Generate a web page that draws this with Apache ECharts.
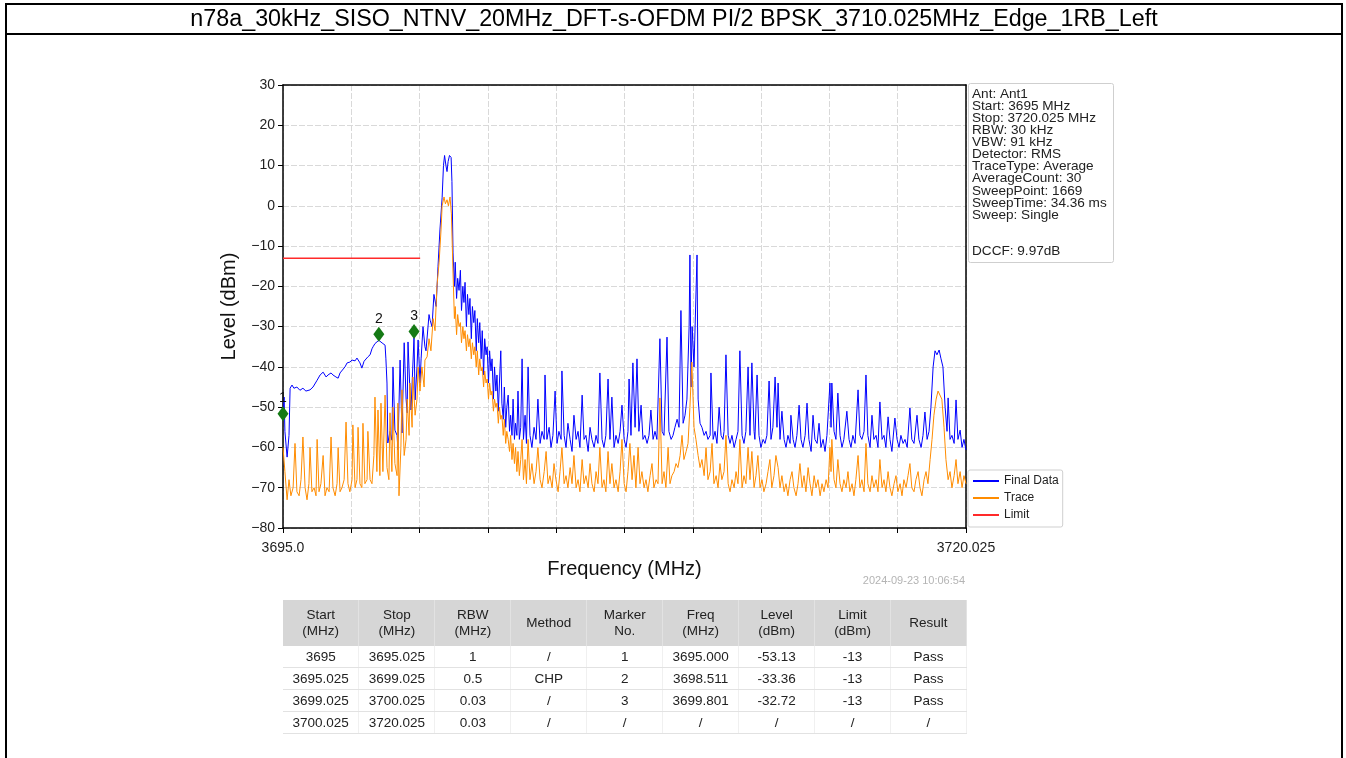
<!DOCTYPE html>
<html>
<head>
<meta charset="utf-8">
<script src="https://cdn.jsdelivr.net/npm/echarts@6/dist/echarts.min.js"></script>
<style>
  html, body { margin: 0; padding: 0; background: #fff; width: 1346px; height: 758px; overflow: hidden;
               font-family: "Liberation Sans", Arial, sans-serif; }
  #frame { position: absolute; left: 5px; top: 3px; width: 1338px; height: 770px; border: 2px solid #000;
           border-bottom: none; box-sizing: border-box; }
  #titlebar { position: absolute; left: 5px; top: 3px; width: 1338px; height: 32px; border-bottom: 2px solid #000;
              box-sizing: border-box; text-align: center; font-size: 23.3px; line-height: 30px; color: #000; }
  #chart { position: absolute; left: 0; top: 0; width: 1346px; height: 758px; }
  #tbl { position: absolute; left: 283px; top: 600px; width: 684px; border-collapse: collapse; table-layout: fixed;
         font-size: 13.5px; color: #222; }
  #tbl th { background: #d6d6d6; font-weight: normal; height: 46px; padding: 0; line-height: 16px;
            border-right: 1px solid #e2e2e2; }
  #tbl td { height: 21px; padding: 0; text-align: center; border-bottom: 1px solid #e2e2e2;
            border-right: 1px solid #f0f0f0; }
</style>
</head>
<body>
<div id="chart"></div>
<div id="frame"></div>
<div id="titlebar">n78a_30kHz_SISO_NTNV_20MHz_DFT-s-OFDM PI/2 BPSK_3710.025MHz_Edge_1RB_Left</div>
<table id="tbl"></table>
<script>
// Sweep settings
const sweepStart = 3695.0;
const sweepStop = 3720.025;
const xEdgeLabels = ['3695.0', '3720.025'];
const levelMin = -80, levelMax = 30, levelStep = 10;

// Final Data (blue), [MHz, dBm] — lower band edge up to the carrier
const finalLeft = [
  [3695.00,-53.1],[3695.04,-47.5],[3695.07,-56],[3695.15,-62.4],[3695.22,-57],[3695.26,-45.3],[3695.33,-44.5],
  [3695.40,-45.3],[3695.51,-45],[3695.62,-45.8],[3695.73,-45.3],[3695.84,-46],[3695.99,-45.7],[3696.10,-45],
  [3696.25,-43.3],[3696.36,-42],[3696.47,-41.3],[3696.58,-42.5],[3696.65,-42],[3696.76,-41.5],[3696.83,-42],
  [3696.94,-42.5],[3697.02,-42.8],[3697.09,-41.5],[3697.16,-41.3],[3697.27,-40],[3697.35,-39],[3697.45,-38.8],
  [3697.53,-38.3],[3697.64,-38.5],[3697.71,-37.8],[3697.82,-39],[3697.89,-40.3],[3697.97,-38.6],[3698.00,-38.3],
  [3698.11,-37.5],[3698.19,-37],[3698.26,-35.5],[3698.30,-35],[3698.37,-34.2],[3698.44,-34],[3698.51,-33.4],
  [3698.55,-33.8],[3698.66,-34.2],[3698.74,-34.6],[3698.77,-38],[3698.81,-44],[3698.84,-58.9],[3698.92,-56],
  [3698.99,-58.2],[3699.03,-40],[3699.10,-55.7],[3699.18,-57],[3699.21,-60.6],[3699.29,-38.3],[3699.36,-56.4],
  [3699.44,-34],[3699.51,-48],[3699.55,-51.4],[3699.58,-33.8],[3699.65,-46],[3699.69,-50.7],[3699.80,-32.7],
  [3699.84,-48.2],[3699.91,-40],[3699.95,-33.3],[3700.02,-44],[3700.06,-38],[3700.13,-30],[3700.20,-35],
  [3700.24,-36],[3700.35,-27],[3700.39,-28.4],[3700.46,-30],[3700.53,-22],[3700.61,-25],[3700.68,-15],
  [3700.75,-6],[3700.83,2],[3700.88,10],[3700.92,12.5],[3700.97,10],[3701.01,8.5],[3701.05,11],[3701.10,12.5],
  [3701.16,12],[3701.19,6]
];

// Final Data (blue) — upper skirt of the carrier
const finalSkirt = [
  [3701.23,-11.7],[3701.28,-20],[3701.31,-14],[3701.36,-23],[3701.40,-18],[3701.45,-21],[3701.50,-16],[3701.54,-26],
  [3701.59,-20],[3701.63,-24],[3701.67,-19],[3701.72,-30],[3701.76,-22],[3701.81,-27],[3701.85,-23],[3701.90,-33],
  [3701.94,-25],[3701.99,-29],[3702.03,-26],[3702.08,-36],[3702.12,-28],[3702.17,-34],[3702.21,-29],[3702.26,-38],
  [3702.30,-31],[3702.35,-42],[3702.39,-33],[3702.44,-37],[3702.48,-35],[3702.53,-44],[3702.57,-36],[3702.62,-41],
  [3702.66,-38],[3702.71,-48],[3702.75,-40],[3702.80,-46],[3702.84,-42],[3702.89,-51],[3702.93,-44],[3702.98,-36],
  [3703.02,-49],[3703.07,-53],[3703.11,-45],[3703.16,-55],[3703.20,-50],[3703.25,-47],[3703.30,-56],[3703.34,-52],
  [3703.39,-57],[3703.43,-48],[3703.48,-58],[3703.52,-54],[3703.57,-57],[3703.61,-46],[3703.66,-58],[3703.71,-55],
  [3703.76,-38],[3703.81,-58],[3703.87,-52],[3703.92,-59],[3703.98,-40]
];

// Final Data (blue) — upper band
const finalRight = [
  [3704.05,-57],[3704.12,-60],[3704.20,-55],[3704.27,-58],[3704.34,-48],[3704.42,-59],[3704.49,-56],[3704.57,-58],
  [3704.60,-42],[3704.67,-58],[3704.75,-55],[3704.82,-60],[3704.89,-57],[3704.97,-46],[3705.04,-59],[3705.11,-56],
  [3705.19,-58],[3705.22,-41],[3705.30,-57],[3705.37,-60],[3705.44,-54],[3705.52,-58],[3705.59,-61],[3705.66,-52],
  [3705.74,-58],[3705.81,-56],[3705.88,-60],[3705.96,-47],[3706.03,-58],[3706.10,-57],[3706.18,-61],[3706.25,-55],
  [3706.32,-58],[3706.40,-60],[3706.47,-57],[3706.54,-59],[3706.61,-41.5],[3706.69,-58],[3706.76,-60],[3706.83,-57],
  [3706.91,-43],[3706.98,-58],[3707.05,-47.5],[3707.13,-60],[3707.20,-57],[3707.28,-59],[3707.35,-56],[3707.42,-49.5],
  [3707.50,-58],[3707.57,-60],[3707.64,-56],[3707.68,-43],[3707.75,-57],[3707.82,-39],[3707.90,-55],[3707.97,-38],
  [3708.04,-56],[3708.12,-49.5],[3708.19,-58],[3708.26,-57],[3708.34,-59],[3708.41,-57],[3708.48,-50.7],[3708.56,-58],
  [3708.63,-56],[3708.70,-58],[3708.81,-33],[3708.89,-56],[3708.96,-57],[3709.07,-32.6],[3709.14,-56],[3709.22,-58],
  [3709.29,-57],[3709.36,-55],[3709.44,-53],[3709.51,-55],[3709.58,-26],[3709.66,-54],[3709.73,-52],[3709.80,-48],
  [3709.88,-30],[3709.91,-12.2],[3709.95,-45],[3709.99,-30],[3710.06,-40],[3710.17,-12.2],[3710.21,-48],[3710.28,-54],
  [3710.35,-55],[3710.43,-57],[3710.50,-56],[3710.57,-58],[3710.65,-57],[3710.68,-41.5],[3710.76,-58],[3710.83,-56],
  [3710.90,-59],[3710.98,-50],[3711.05,-57],[3711.12,-58],[3711.16,-56],[3711.23,-37],[3711.31,-57],[3711.38,-59],
  [3711.45,-57],[3711.53,-60],[3711.60,-58],[3711.67,-56],[3711.74,-36],[3711.82,-57],[3711.89,-59],[3711.96,-56],
  [3712.04,-40],[3712.11,-57],[3712.18,-39],[3712.26,-56],[3712.29,-58],[3712.37,-42],[3712.44,-57],[3712.51,-60],
  [3712.59,-58],[3712.66,-59],[3712.73,-57],[3712.81,-43.5],[3712.88,-58],[3712.95,-55],[3713.03,-42.5],[3713.10,-55],
  [3713.14,-44],[3713.21,-58],[3713.28,-51],[3713.36,-58],[3713.43,-60],[3713.50,-57],[3713.58,-59],[3713.61,-52],
  [3713.69,-58],[3713.76,-60],[3713.83,-57],[3713.91,-49.5],[3713.98,-58],[3714.05,-60],[3714.13,-57],[3714.20,-49],
  [3714.27,-58],[3714.35,-61],[3714.42,-52],[3714.49,-58],[3714.57,-59],[3714.64,-54],[3714.71,-60],[3714.79,-58],
  [3714.86,-61],[3714.93,-57],[3715.04,-44],[3715.08,-55],[3715.11,-44],[3715.19,-56],[3715.26,-58],[3715.33,-46.5],
  [3715.41,-57],[3715.48,-60],[3715.55,-58],[3715.66,-51],[3715.74,-58],[3715.81,-60],[3715.88,-57],[3715.96,-59],
  [3716.07,-45.7],[3716.14,-57],[3716.21,-58],[3716.29,-56],[3716.36,-42],[3716.43,-57],[3716.51,-60],[3716.58,-52],
  [3716.65,-58],[3716.73,-57],[3716.80,-60],[3716.87,-48.7],[3716.95,-58],[3717.02,-57],[3717.09,-60],[3717.17,-52.4],
  [3717.24,-58],[3717.31,-61],[3717.42,-52.7],[3717.50,-58],[3717.57,-60],[3717.64,-57],[3717.72,-59],[3717.79,-58],
  [3717.87,-60],[3717.97,-50.2],[3718.04,-58],[3718.12,-59],[3718.23,-52],[3718.30,-58],[3718.38,-60],[3718.45,-57],
  [3718.52,-51.2],[3718.60,-58],[3718.67,-56],[3718.74,-50],[3718.82,-40],[3718.89,-36],[3718.96,-37],[3719.04,-35.8],
  [3719.11,-38],[3719.18,-40],[3719.26,-50],[3719.33,-56],[3719.37,-47.7],[3719.44,-58],[3719.51,-57],[3719.59,-59],
  [3719.66,-48.2],[3719.73,-58],[3719.81,-55.7],[3719.88,-60],[3719.95,-58],[3720.025,-60.6]
];

// Trace (orange) — lower band edge up to the carrier
const traceLeft = [
  [3695.00,-60],[3695.07,-66],[3695.15,-73],[3695.22,-68],[3695.29,-72],[3695.37,-70],[3695.44,-59],[3695.51,-71],
  [3695.59,-72],[3695.66,-68],[3695.73,-57.4],[3695.81,-70],[3695.88,-73],[3695.95,-69],[3695.99,-60],[3696.06,-71],
  [3696.14,-70],[3696.21,-72],[3696.25,-58],[3696.32,-71],[3696.39,-69],[3696.47,-62],[3696.54,-72],[3696.61,-70],
  [3696.69,-71],[3696.76,-57.4],[3696.83,-70],[3696.91,-72],[3696.98,-69],[3697.02,-60],[3697.09,-71],[3697.16,-70],
  [3697.24,-68],[3697.31,-53.7],[3697.38,-69],[3697.45,-71],[3697.53,-68],[3697.56,-54.4],[3697.64,-70],[3697.71,-68],
  [3697.75,-55],[3697.82,-69],[3697.89,-70],[3697.93,-54],[3698.00,-69],[3698.08,-68],[3698.11,-56],[3698.19,-68],
  [3698.26,-69],[3698.33,-62],[3698.37,-47.5],[3698.44,-66],[3698.48,-50.7],[3698.55,-67],[3698.59,-49],[3698.66,-66],
  [3698.74,-47],[3698.81,-65],[3698.88,-68],[3698.92,-51.4],[3698.99,-66],[3699.03,-50],[3699.10,-64],[3699.18,-67],
  [3699.21,-49],[3699.25,-72],[3699.32,-60],[3699.36,-45.7],[3699.44,-62],[3699.51,-58],[3699.55,-48],[3699.62,-57],
  [3699.65,-44],[3699.73,-55],[3699.76,-42.5],[3699.84,-52],[3699.91,-48],[3699.95,-40],[3700.02,-46],[3700.09,-40],
  [3700.17,-45],[3700.20,-38.3],[3700.28,-37.5],[3700.35,-33],[3700.42,-36],[3700.50,-28],[3700.57,-31],[3700.64,-20],
  [3700.72,-14],[3700.79,-6],[3700.83,0],[3700.90,2.2],[3700.95,0.5],[3701.01,1.5],[3701.06,0],[3701.12,2.2],
  [3701.17,-2]
];

// Trace (orange) — upper skirt of the carrier
const traceSkirt = [
  [3701.23,-16.7],[3701.28,-28],[3701.31,-25],[3701.36,-32],[3701.40,-27],[3701.45,-30],[3701.50,-29],[3701.54,-34],
  [3701.59,-30],[3701.63,-33],[3701.67,-31],[3701.72,-36],[3701.76,-32],[3701.81,-35],[3701.85,-33],[3701.90,-38],
  [3701.94,-34],[3701.99,-37],[3702.03,-35],[3702.08,-40],[3702.12,-36],[3702.17,-42],[3702.21,-38],[3702.26,-41],
  [3702.30,-40],[3702.35,-45],[3702.39,-41],[3702.44,-44],[3702.48,-43],[3702.53,-48],[3702.57,-44],[3702.62,-47],
  [3702.66,-46],[3702.71,-51],[3702.75,-48],[3702.80,-50],[3702.84,-49],[3702.89,-54],[3702.93,-50],[3702.98,-53],
  [3703.02,-52],[3703.07,-57],[3703.11,-53],[3703.16,-59],[3703.20,-56],[3703.25,-58],[3703.30,-61],[3703.34,-57],
  [3703.39,-63],[3703.43,-59],[3703.48,-64],[3703.52,-60],[3703.57,-66],[3703.61,-61],[3703.66,-67],[3703.71,-63],
  [3703.76,-58],[3703.81,-68],[3703.87,-63],[3703.92,-69],[3703.98,-58]
];

// Trace (orange) — upper band
const traceRight = [
  [3704.05,-68],[3704.12,-64],[3704.20,-69],[3704.27,-66],[3704.34,-60],
  [3704.42,-68],[3704.49,-70],[3704.57,-66],[3704.64,-61],[3704.71,-69],[3704.78,-67],[3704.86,-70],[3704.93,-64],
  [3705.00,-68],[3705.08,-71],[3705.15,-66],[3705.22,-60],[3705.30,-69],[3705.37,-67],[3705.44,-70],[3705.52,-65],
  [3705.59,-69],[3705.66,-62],[3705.74,-70],[3705.81,-68],[3705.88,-71],[3705.96,-63],[3706.03,-69],[3706.10,-67],
  [3706.18,-70],[3706.25,-64],[3706.32,-69],[3706.40,-71],[3706.47,-66],[3706.54,-69],[3706.61,-60],[3706.69,-70],
  [3706.76,-68],[3706.83,-71],[3706.91,-61],[3706.98,-69],[3707.05,-64],[3707.13,-70],[3707.20,-68],[3707.28,-71],
  [3707.35,-66],[3707.42,-58],[3707.50,-69],[3707.57,-71],[3707.64,-66],[3707.71,-59],[3707.79,-68],[3707.86,-62],
  [3707.93,-70],[3708.01,-60],[3708.08,-69],[3708.15,-66],[3708.23,-70],[3708.30,-68],[3708.37,-71],[3708.45,-67],
  [3708.52,-64],[3708.59,-70],[3708.67,-68],[3708.74,-69],[3708.81,-47.7],[3708.89,-69],[3708.96,-66],[3709.03,-70],
  [3709.11,-60],[3709.18,-69],[3709.25,-67],[3709.33,-66],[3709.40,-64],[3709.47,-65],[3709.55,-62],[3709.62,-57],
  [3709.69,-63],[3709.77,-61],[3709.84,-59],[3709.91,-50],[3709.98,-38.8],[3710.06,-55],[3710.13,-58],[3710.21,-62],
  [3710.28,-65],[3710.35,-63],[3710.43,-67],[3710.50,-60],[3710.57,-68],[3710.65,-66],[3710.72,-59],[3710.79,-69],
  [3710.87,-67],[3710.94,-70],[3711.01,-64],[3711.08,-68],[3711.16,-66],[3711.23,-57],[3711.31,-69],[3711.38,-71],
  [3711.45,-68],[3711.53,-70],[3711.60,-66],[3711.67,-69],[3711.74,-58],[3711.82,-70],[3711.89,-67],[3711.96,-69],
  [3712.04,-60],[3712.11,-68],[3712.18,-61],[3712.26,-70],[3712.33,-67],[3712.40,-62],[3712.48,-70],[3712.55,-68],
  [3712.62,-71],[3712.70,-69],[3712.77,-66],[3712.84,-63],[3712.91,-70],[3712.99,-67],[3713.06,-62],[3713.14,-65],
  [3713.21,-70],[3713.28,-67],[3713.36,-71],[3713.43,-69],[3713.50,-72],[3713.58,-68],[3713.65,-66],[3713.72,-70],
  [3713.80,-72],[3713.87,-69],[3713.94,-64],[3714.02,-70],[3714.09,-67],[3714.16,-71],[3714.24,-65],[3714.31,-69],
  [3714.38,-72],[3714.46,-67],[3714.53,-70],[3714.60,-68],[3714.68,-72],[3714.75,-69],[3714.82,-71],[3714.90,-68],
  [3714.97,-70],[3715.04,-60],[3715.08,-66],[3715.11,-58],[3715.19,-68],[3715.26,-70],[3715.33,-63],[3715.41,-69],
  [3715.48,-71],[3715.55,-68],[3715.63,-70],[3715.70,-66],[3715.77,-71],[3715.85,-69],[3715.92,-72],[3715.99,-68],
  [3716.07,-62],[3716.14,-70],[3716.21,-68],[3716.29,-71],[3716.36,-59],[3716.43,-69],[3716.51,-71],[3716.58,-67],
  [3716.65,-70],[3716.73,-68],[3716.80,-71],[3716.87,-63],[3716.95,-70],[3717.02,-68],[3717.09,-71],[3717.17,-66],
  [3717.24,-70],[3717.31,-72],[3717.39,-69],[3717.46,-67],[3717.53,-71],[3717.61,-69],[3717.68,-72],[3717.75,-68],
  [3717.83,-70],[3717.90,-67],[3717.97,-64],[3718.04,-70],[3718.12,-71],[3718.19,-68],[3718.27,-66],[3718.34,-70],
  [3718.41,-72],[3718.49,-68],[3718.56,-66],[3718.63,-69],[3718.71,-63],[3718.78,-58],[3718.85,-52],[3718.93,-48],
  [3719.00,-46],[3719.07,-45.7],[3719.14,-48],[3719.22,-55],[3719.29,-63],[3719.37,-68],[3719.44,-66],[3719.51,-70],
  [3719.59,-67],[3719.66,-63],[3719.73,-69],[3719.81,-66],[3719.88,-70],[3719.95,-67],[3720.025,-69]
];

// Emission limit segment
const limitFreq = [3695.0, 3700.025];
const limitLevel = -13;

// Peak markers
const markerNo = [1, 2, 3];
const markerFreq = [3695.000, 3698.511, 3699.801];
const markerLevel = [-53.13, -33.36, -32.72];

// Instrument settings box
const infoLines = [
  'Ant: Ant1', 'Start: 3695 MHz', 'Stop: 3720.025 MHz', 'RBW: 30 kHz', 'VBW: 91 kHz', 'Detector: RMS',
  'TraceType: Average', 'AverageCount: 30', 'SweepPoint: 1669', 'SweepTime: 34.36 ms', 'Sweep: Single',
  '', '', 'DCCF: 9.97dB'
];
const timestamp = '2024-09-23 10:06:54';

// Result table
const tableHeader = ['Start\n(MHz)', 'Stop\n(MHz)', 'RBW\n(MHz)', 'Method', 'Marker\nNo.', 'Freq\n(MHz)', 'Level\n(dBm)', 'Limit\n(dBm)', 'Result'];
const rangeStart = ['3695', '3695.025', '3699.025', '3700.025'];
const rangeStop = ['3695.025', '3699.025', '3700.025', '3720.025'];
const rangeRBW = ['1', '0.5', '0.03', '0.03'];
const rangeMethod = ['/', 'CHP', '/', '/'];
const rangeLimit = ['-13', '-13', '-13', '/'];
const rangeResult = ['Pass', 'Pass', 'Pass', '/'];

// ---- table ----
(function buildTable() {
  const tbl = document.getElementById('tbl');
  let html = '<tr>' + tableHeader.map(h => '<th>' + h.replace('\n', '<br>') + '</th>').join('') + '</tr>';
  for (let i = 0; i < rangeStart.length; i++) {
    const hasMarker = i < markerNo.length;
    const cells = [
      rangeStart[i], rangeStop[i], rangeRBW[i], rangeMethod[i],
      hasMarker ? String(markerNo[i]) : '/',
      hasMarker ? markerFreq[i].toFixed(3) : '/',
      hasMarker ? markerLevel[i].toFixed(2) : '/',
      rangeLimit[i], rangeResult[i]
    ];
    html += '<tr>' + cells.map(c => '<td>' + c + '</td>').join('') + '</tr>';
  }
  tbl.innerHTML = html;
})();

// ---- chart ----
const chart = echarts.init(document.getElementById('chart'), null, { renderer: 'canvas' });
const gridLine = { color: '#d9d9d9', width: 1, type: [6, 2] };
const frameLine = { show: true, onZero: false, lineStyle: { color: '#000', width: 1.5 } };
const markerData = markerNo.map((n, i) => ({ value: [markerFreq[i], markerLevel[i]], name: String(n) }));
const FONT = '"Liberation Sans", Arial, sans-serif';

chart.setOption({
  animation: false,
  textStyle: { fontFamily: FONT },
  grid: { left: 283, top: 85, width: 683, height: 443 },
  xAxis: [
    {
      type: 'value', min: sweepStart, max: sweepStop, position: 'bottom',
      axisLine: { show: false, onZero: false }, axisTick: { show: false }, splitLine: { show: false },
      axisLabel: {
        showMinLabel: true, showMaxLabel: true, hideOverlap: false, color: '#222', fontSize: 14, margin: 13,
        formatter: v => Math.abs(v - sweepStart) < 1e-6 ? xEdgeLabels[0] : (Math.abs(v - sweepStop) < 1e-6 ? xEdgeLabels[1] : '')
      },
      name: 'Frequency (MHz)', nameLocation: 'middle', nameGap: 31,
      nameTextStyle: { fontSize: 20, color: '#111' }
    },
    {
      // ten equal divisions across the sweep for ticks and vertical grid lines
      type: 'value', min: 0, max: 10, interval: 1, position: 'bottom',
      axisLine: frameLine,
      axisTick: { show: true, length: 5, lineStyle: { color: '#000' } },
      axisLabel: { show: false },
      splitLine: { show: true, lineStyle: gridLine }
    },
    {
      // top edge of the plot frame
      type: 'value', min: 0, max: 10, position: 'top',
      axisLine: frameLine, axisTick: { show: false }, axisLabel: { show: false }, splitLine: { show: false }
    }
  ],
  yAxis: [
    {
      type: 'value', min: levelMin, max: levelMax, interval: levelStep, position: 'left',
      axisLine: frameLine,
      axisTick: { show: true, length: 5, lineStyle: { color: '#000' } },
      axisLabel: { color: '#222', fontSize: 14, margin: 8, formatter: v => String(v).replace('-', '\u2212') },
      splitLine: { show: true, lineStyle: gridLine },
      name: 'Level (dBm)', nameLocation: 'middle', nameGap: 44,
      nameTextStyle: { fontSize: 20, color: '#111' }
    },
    {
      // right edge of the plot frame
      type: 'value', min: levelMin, max: levelMax, position: 'right',
      axisLine: frameLine, axisTick: { show: false }, axisLabel: { show: false }, splitLine: { show: false }
    }
  ],
  legend: {
    orient: 'vertical', left: 968, top: 470, itemWidth: 26, itemHeight: 2, itemGap: 5,
    padding: [5, 4, 6, 5], backgroundColor: '#fff', borderColor: '#cfcfcf', borderWidth: 1, borderRadius: 2,
    textStyle: { fontSize: 12, color: '#222' },
    data: [
      { name: 'Final Data', icon: 'rect' },
      { name: 'Trace', icon: 'rect' },
      { name: 'Limit', icon: 'rect' }
    ]
  },
  graphic: [
    { type: 'rect', left: 968, top: 83, shape: { width: 145, height: 179, r: 2 },
      style: { fill: '#fff', stroke: '#cfcfcf', lineWidth: 1 }, z: 10 },
    { type: 'text', left: 972, top: 87, z: 11,
      style: { text: infoLines.join('\n'), fontSize: 13.6, lineHeight: 12.1, fill: '#222', fontFamily: FONT } },
    { type: 'text', right: 1346 - 965, top: 575, z: 11,
      style: { text: timestamp, fontSize: 11, fill: '#b4b4b4', fontFamily: FONT } }
  ],
  series: [
    { name: 'Final Data', type: 'line', xAxisIndex: 0, data: finalLeft.concat(finalSkirt, finalRight), showSymbol: false,
      lineStyle: { color: '#0000ff', width: 1 }, itemStyle: { color: '#0000ff' } },
    { name: 'Trace', type: 'line', xAxisIndex: 0, data: traceLeft.concat(traceSkirt, traceRight), showSymbol: false,
      lineStyle: { color: '#ff8c00', width: 1 }, itemStyle: { color: '#ff8c00' } },
    { name: 'Limit', type: 'line', xAxisIndex: 0, data: limitFreq.map(f => [f, limitLevel]), showSymbol: false,
      lineStyle: { color: '#ff2a2a', width: 1.5 }, itemStyle: { color: '#ff2a2a' } },
    { name: 'Markers', type: 'scatter', xAxisIndex: 0, data: markerData, symbol: 'diamond', symbolSize: [11, 15],
      symbolOffset: [0, -6], itemStyle: { color: '#157a15', opacity: 1 }, z: 5,
      label: { show: true, position: 'top', distance: 1, formatter: p => p.name, fontSize: 14, color: '#111' } }
  ]
});
</script>
</body>
</html>
